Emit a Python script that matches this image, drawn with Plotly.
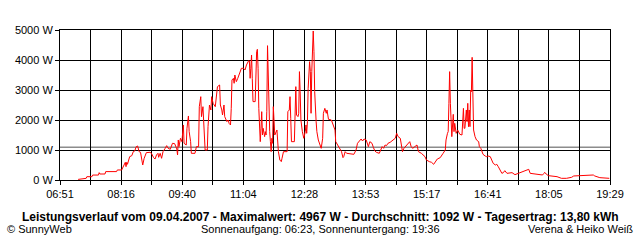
import plotly.graph_objects as go

# ---- data ----
zeit = [
    "07:16", "07:27", "07:28", "07:35", "07:36", "07:44", "07:45", "07:46", "07:53", "07:54",
    "08:09", "08:10", "08:16", "08:17", "08:19", "08:21", "08:22", "08:23", "08:24", "08:25",
    "08:27", "08:30", "08:32", "08:34", "08:36", "08:38", "08:40", "08:42", "08:44", "08:45",
    "08:47", "08:49", "08:50", "08:55", "08:57", "09:00", "09:02", "09:04", "09:06", "09:07",
    "09:09", "09:11", "09:13", "09:16", "09:18", "09:20", "09:23", "09:26", "09:29", "09:32",
    "09:33", "09:34", "09:35", "09:37", "09:39", "09:41", "09:42", "09:45", "09:46", "09:48",
    "09:49", "09:51", "09:52", "09:57", "09:59", "10:02", "10:03", "10:05", "10:06", "10:08",
    "10:09", "10:11", "10:14", "10:15", "10:17", "10:19", "10:20", "10:22", "10:25", "10:27",
    "10:28", "10:31", "10:32", "10:34", "10:35", "10:37", "10:38", "10:41", "10:43", "10:44",
    "10:46", "10:47", "10:48", "10:50", "10:51", "10:52", "10:54", "10:56", "10:58", "10:59",
    "11:01", "11:04", "11:06", "11:08", "11:11", "11:12", "11:13", "11:14", "11:15", "11:16",
    "11:17", "11:20", "11:21", "11:22", "11:23", "11:24", "11:25", "11:26", "11:27", "11:28",
    "11:29", "11:30", "11:31", "11:33", "11:34", "11:35", "11:36", "11:37", "11:38", "11:39",
    "11:40", "11:41", "11:42", "11:43", "11:44", "11:45", "11:46", "11:47", "11:50", "11:52",
    "11:54", "11:56", "11:57", "11:59", "12:04", "12:05", "12:07", "12:08", "12:09", "12:10",
    "12:14", "12:15", "12:16", "12:17", "12:19", "12:20", "12:21", "12:22", "12:23", "12:25",
    "12:27", "12:29", "12:30", "12:31", "12:32", "12:33", "12:35", "12:36", "12:37", "12:38",
    "12:39", "12:40", "12:41", "12:42", "12:44", "12:45", "12:47", "12:49", "12:51", "12:53",
    "12:54", "12:56", "12:58", "12:59", "13:01", "13:05", "13:08", "13:10", "13:11", "13:15",
    "13:17", "13:19", "13:21", "13:22", "13:24", "13:26", "13:36", "13:39", "13:41", "13:44",
    "13:46", "13:48", "13:50", "13:53", "13:55", "13:56", "13:58", "14:01", "14:03", "14:05",
    "14:07", "14:11", "14:13", "14:15", "14:17", "14:19", "14:21", "14:23", "14:26", "14:28",
    "14:30", "14:33", "14:35", "14:37", "14:40", "14:41", "14:43", "14:45", "14:48", "14:51",
    "14:53", "14:55", "14:57", "15:00", "15:03", "15:05", "15:09", "15:14", "15:16", "15:20",
    "15:23", "15:26", "15:28", "15:31", "15:35", "15:37", "15:39", "15:42", "15:43", "15:45",
    "15:46", "15:47", "15:48", "15:49", "15:50", "15:51", "15:53", "15:54", "15:55", "15:57",
    "15:59", "16:02", "16:05", "16:07", "16:08", "16:09", "16:11", "16:12", "16:13", "16:14",
    "16:15", "16:16", "16:17", "16:18", "16:19", "16:20", "16:21", "16:23", "16:25", "16:28",
    "16:29", "16:31", "16:33", "16:34", "16:37", "16:39", "16:41", "16:44", "16:46", "16:48",
    "16:51", "16:53", "16:55", "16:57", "17:00", "17:02", "17:04", "17:07", "17:11", "17:14",
    "17:18", "17:23", "17:27", "17:32", "17:37", "17:39", "17:48", "17:56", "17:58", "17:59",
    "18:01", "18:04", "18:16", "18:22", "18:29", "18:36", "18:39", "19:01", "19:06", "19:08",
    "19:15", "19:28",
]
leistung = [
    20, 55, 110, 110, 165, 165, 245, 200, 200, 280,
    280, 334, 334, 390, 500, 590, 445, 590, 523, 612,
    778, 812, 945, 967, 1111, 1134, 945, 923, 590, 500,
    723, 834, 912, 923, 890, 745, 700, 834, 890, 756,
    890, 723, 945, 1056, 1145, 1056, 1023, 1223, 1212, 1034,
    834, 1334, 1111, 1390, 1278, 1834, 1223, 1167, 1723, 2134,
    1612, 1278, 890, 889, 1111, 1111, 2444, 2778, 2111, 2444,
    1778, 1000, 1000, 1778, 2500, 2333, 2778, 2556, 2444, 2889,
    3111, 3167, 2500, 2334, 2167, 2500, 2112, 1945, 2000, 1889,
    1834, 2389, 3334, 3389, 3223, 3500, 3278, 3389, 3556, 3612,
    3723, 3723, 3667, 3834, 3978, 3967, 3389, 3723, 4167, 3389,
    2612, 2612, 3834, 4278, 4356, 3723, 2389, 1390, 1278, 1723,
    2278, 1500, 1723, 1445, 1612, 1500, 2278, 4478, 3056, 2612,
    1612, 1278, 945, 1390, 1223, 2445, 1834, 1500, 1667, 945,
    667, 612, 723, 945, 945, 2278, 2334, 2778, 2056, 1278,
    1278, 1945, 3112, 2167, 2112, 2223, 3612, 2945, 2000, 1612,
    1390, 1612, 1834, 1556, 1945, 3056, 3945, 3612, 2223, 3612,
    4278, 4967, 4278, 2945, 1945, 1612, 1334, 1167, 1056, 1390,
    2223, 2389, 2223, 2334, 2023, 2000, 1834, 1667, 1278, 1112,
    1000, 945, 745, 778, 945, 890, 856, 1000, 1223, 1334,
    1367, 1300, 1367, 1334, 1223, 1112, 1278, 1223, 1078, 967,
    923, 890, 1000, 1112, 1056, 1167, 1145, 1223, 1256, 1300,
    1334, 1390, 1556, 1445, 1390, 1223, 945, 1056, 1145, 1223,
    1278, 1112, 1056, 1112, 1167, 945, 890, 778, 667, 612,
    590, 523, 612, 700, 745, 834, 890, 1000, 1334, 1556,
    1612, 2556, 3612, 2556, 1500, 1445, 2189, 1612, 1889, 1556,
    1667, 1523, 1500, 2389, 1723, 1723, 2334, 1945, 2556, 1778,
    2333, 1778, 3000, 2945, 4089, 3000, 1667, 1445, 1333, 1278,
    1111, 1056, 945, 856, 800, 778, 800, 778, 667, 556,
    500, 523, 445, 333, 222, 245, 311, 222, 222, 245,
    178, 222, 278, 311, 356, 222, 189, 167, 222, 256,
    200, 145, 111, 56, 56, 89, 134, 167, 167, 134,
    78, 56,
]
x_labels = ["06:51", "08:16", "09:40", "11:04", "12:28", "13:53", "15:17", "16:41", "18:05", "19:29"]
y_values = [0, 1000, 2000, 3000, 4000, 5000]
y_labels = ["0 W", "1000 W", "2000 W", "3000 W", "4000 W", "5000 W"]
durchschnitt = 1092
titel = ("Leistungsverlauf vom 09.04.2007 - Maximalwert: 4967 W - "
         "Durchschnitt: 1092 W - Tagesertrag: 13,80 kWh")
fuss_links = "© SunnyWeb"
fuss_mitte = "Sonnenaufgang: 06:23, Sonnenuntergang: 19:36"
fuss_rechts = "Verena & Heiko Weiß"


def to_min(s):
    h, m = s.split(":")
    return int(h) * 60 + int(m)


x = [to_min(t) for t in zeit]
x0 = to_min(x_labels[0])
x1 = to_min(x_labels[-1])
step = (x1 - x0) / 18.0
tickvals = [x0 + i * step for i in range(19)]
ticktext = [x_labels[i // 2] if i % 2 == 0 else "" for i in range(19)]

FONT = "Liberation Sans, Arial, sans-serif"

fig = go.Figure()
fig.add_trace(go.Scatter(x=x, y=leistung, mode="lines",
                         line=dict(color="#ff0000", width=1), hoverinfo="skip"))

fig.add_shape(type="line", xref="paper", yref="y", x0=0, x1=1,
              y0=durchschnitt, y1=durchschnitt,
              line=dict(color="#8c8c8c", width=1.5), layer="below")

fig.update_layout(
    width=640, height=240,
    margin=dict(l=60, r=30, t=30, b=60),
    paper_bgcolor="white", plot_bgcolor="white",
    showlegend=False,
    font=dict(family=FONT, size=11, color="black"),
)
fig.update_xaxes(range=[x0, x1], tickmode="array", tickvals=tickvals, ticktext=ticktext,
                 showgrid=True, gridcolor="black", gridwidth=1,
                 showline=True, linecolor="black", linewidth=1, mirror=True,
                 ticks="outside", ticklen=4, tickcolor="black", tickwidth=1,
                 zeroline=False, tickfont=dict(size=11, family=FONT))
fig.update_yaxes(range=[0, 5000], tickmode="array", tickvals=y_values, ticktext=y_labels,
                 showgrid=True, gridcolor="black", gridwidth=1,
                 showline=True, linecolor="black", linewidth=1, mirror=True,
                 ticks="outside", ticklen=4, tickcolor="black", tickwidth=1,
                 zeroline=False, tickfont=dict(size=11, family=FONT))

fig.add_annotation(text="<b>" + titel + "</b>", xref="paper", yref="paper",
                   x=(320 - 60) / 550, y=(180 - 217) / 150, xanchor="center", yanchor="middle",
                   showarrow=False, font=dict(size=12, family=FONT, color="black"))
fig.add_annotation(text=fuss_links, xref="paper", yref="paper",
                   x=(5 - 60) / 550, y=(180 - 229) / 150, xanchor="left", yanchor="middle",
                   showarrow=False, font=dict(size=11, family=FONT, color="black"))
fig.add_annotation(text=fuss_mitte, xref="paper", yref="paper",
                   x=(320 - 60) / 550, y=(180 - 229) / 150, xanchor="center", yanchor="middle",
                   showarrow=False, font=dict(size=11, family=FONT, color="black"))
fig.add_annotation(text=fuss_rechts, xref="paper", yref="paper",
                   x=(635 - 60) / 550, y=(180 - 229) / 150, xanchor="right", yanchor="middle",
                   showarrow=False, font=dict(size=11, family=FONT, color="black"))

fig.write_html("out.html")
